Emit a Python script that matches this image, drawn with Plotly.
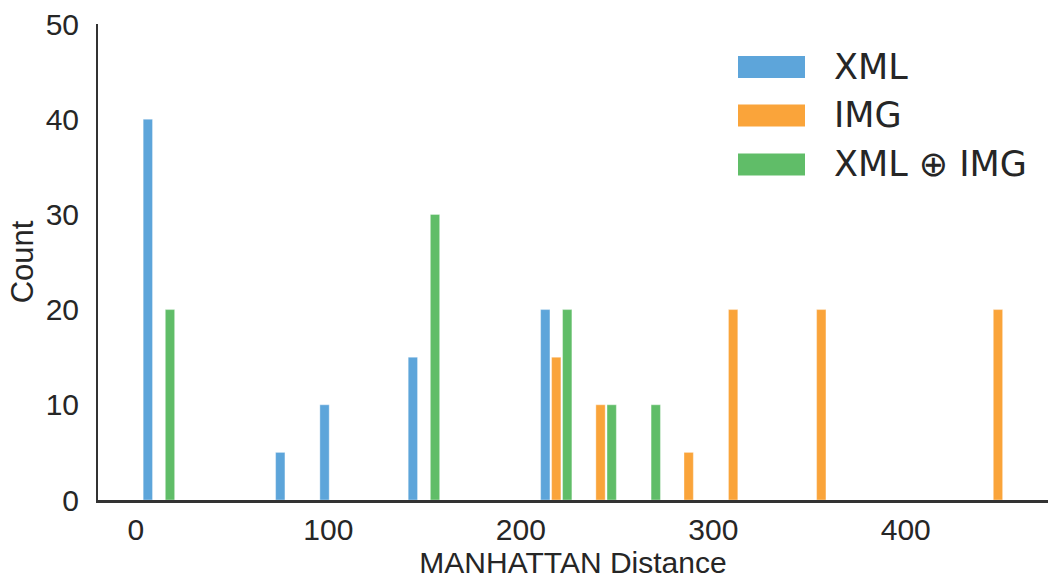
import plotly.graph_objects as go

# ---- data ----
xml_x = [6.2, 75.0, 98.0, 143.9, 212.7]
xml_counts = [40, 5, 10, 15, 20]

img_x = [218.4, 241.4, 287.2, 310.3, 356.1, 447.9]
img_counts = [15, 10, 5, 20, 20, 20]

both_x = [17.7, 155.4, 224.1, 247.2, 270.1]
both_counts = [20, 30, 20, 10, 10]

series_names = ["XML", "IMG", "XML \u2295 IMG"]
series_colors = ["#5DA5DA", "#FAA43A", "#60BD68"]

x_ticks = [0, 100, 200, 300, 400]
y_ticks = [0, 10, 20, 30, 40, 50]

BAR_W = 4.85
W, H = 1051, 579
ML, MR, MT, MB = 98, 3, 24, 79
TXT = "#262626"

fig = go.Figure()
for xs, ys, name, col in zip([xml_x, img_x, both_x],
                             [xml_counts, img_counts, both_counts],
                             series_names, series_colors):
    fig.add_trace(go.Bar(x=xs, y=ys, name=name, width=BAR_W,
                         marker=dict(color=col,
                                     line=dict(color="rgba(255,255,255,0.6)", width=0.6)),
                         showlegend=False))

# custom legend (large swatches like the reference)
pw = W - ML - MR
ph = H - MT - MB
def px2x(px):
    return (px - ML) / pw
def py2y(py):
    return (H - MB - py) / ph

centers = [67, 115.5, 164.5]
shapes = []
annots = []
for cy, name, col in zip(centers, series_names, series_colors):
    shapes.append(dict(type="rect", xref="paper", yref="paper",
                       x0=px2x(738), x1=px2x(805), y0=py2y(cy + 11), y1=py2y(cy - 11),
                       fillcolor=col, line=dict(width=0), layer="above"))
    annots.append(dict(xref="paper", yref="paper", x=px2x(832), y=py2y(cy),
                       xanchor="left", yanchor="middle", showarrow=False,
                       text=name, font=dict(family="DejaVu Sans", size=35, color=TXT)))

fig.update_layout(
    width=W, height=H,
    margin=dict(l=ML, r=MR, t=MT, b=MB, pad=0, autoexpand=False),
    plot_bgcolor="white", paper_bgcolor="white",
    barmode="overlay",
    shapes=shapes, annotations=annots,
    font=dict(family="Liberation Sans, Arial", color=TXT),
)
fig.update_xaxes(range=[-19.7, 473.9], tickvals=x_ticks, ticks="", showgrid=False,
                 zeroline=False, showline=True, linecolor="#333333", linewidth=2.5,
                 automargin=False,
                 tickfont=dict(size=30, color=TXT), ticklabelstandoff=1,
                 title=dict(text="MANHATTAN Distance", font=dict(size=30, color=TXT), standoff=12))
fig.update_yaxes(range=[0, 50], tickvals=y_ticks, ticks="", showgrid=False,
                 zeroline=False, showline=True, linecolor="#333333", linewidth=2,
                 automargin=False,
                 tickfont=dict(size=30, color=TXT), ticklabelstandoff=11,
                 title=dict(text="Count", font=dict(size=31, color=TXT), standoff=3))

fig.write_html("out.html",
               config={"displayModeBar": False},
               post_script="document.body.style.margin='0';document.body.style.overflow='hidden';")
